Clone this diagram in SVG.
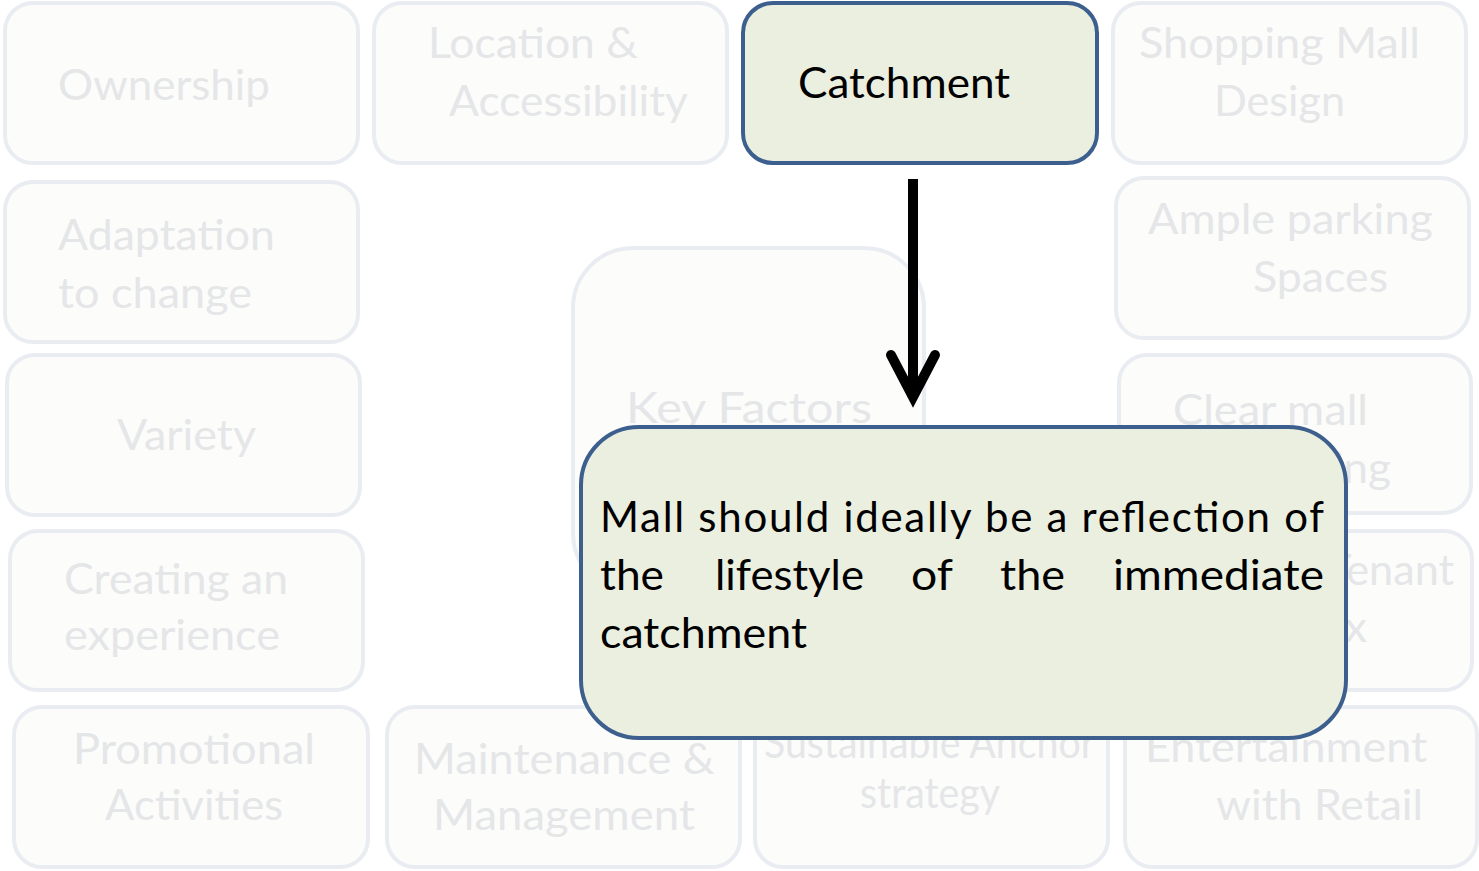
<svg xmlns="http://www.w3.org/2000/svg" width="1479" height="871" viewBox="0 0 1479 871">
<style>
.fb{fill:#fcfcfb;stroke:#e9ecf1;stroke-width:4}
.ft{font-family:Lato,"Liberation Sans",sans-serif;font-size:42px;fill:#e5e6e8}
.hb{fill:#ebefdf;stroke:#3d5f8e;stroke-width:4}
.ht{font-family:Lato,"Liberation Sans",sans-serif;font-size:42px;fill:#000}
.conn{stroke:#000;stroke-width:10;fill:none}
</style>
<rect width="1479" height="871" fill="#ffffff"/>
<g id="ownership"><rect class="fb" x="5" y="3" width="353" height="160" rx="28"/>
<text class="ft" x="58" y="100" textLength="212" lengthAdjust="spacingAndGlyphs">Ownership</text></g>
<g id="location"><rect class="fb" x="374" y="3" width="353" height="160" rx="28"/>
<text class="ft" x="428" y="58" textLength="210" lengthAdjust="spacingAndGlyphs">Location &amp;</text>
<text class="ft" x="449" y="116" textLength="239" lengthAdjust="spacingAndGlyphs">Accessibility</text></g>
<g id="shopping-mall-design"><rect class="fb" x="1113" y="3" width="353" height="160" rx="28"/>
<text class="ft" x="1139" y="58" textLength="281" lengthAdjust="spacingAndGlyphs">Shopping Mall</text>
<text class="ft" x="1214" y="116" textLength="131" lengthAdjust="spacingAndGlyphs">Design</text></g>
<g id="adaptation"><rect class="fb" x="5" y="182" width="353" height="160" rx="28"/>
<text class="ft" x="58" y="250" textLength="217" lengthAdjust="spacingAndGlyphs">Adaptation</text>
<text class="ft" x="58" y="308" textLength="194" lengthAdjust="spacingAndGlyphs">to change</text></g>
<g id="ample-parking"><rect class="fb" x="1116" y="178" width="353" height="160" rx="28"/>
<text class="ft" x="1148" y="234" textLength="285" lengthAdjust="spacingAndGlyphs">Ample parking</text>
<text class="ft" x="1253" y="292" textLength="135" lengthAdjust="spacingAndGlyphs">Spaces</text></g>
<g id="variety"><rect class="fb" x="7" y="355" width="353" height="160" rx="28"/>
<text class="ft" x="117" y="450" textLength="139" lengthAdjust="spacingAndGlyphs">Variety</text></g>
<g id="clear-mall"><rect class="fb" x="1119" y="355" width="352" height="158" rx="28"/>
<text class="ft" x="1173" y="425" textLength="195" lengthAdjust="spacingAndGlyphs">Clear mall</text>
<text class="ft" x="1176" y="483" textLength="215" lengthAdjust="spacingAndGlyphs">positioning</text></g>
<g id="creating-experience"><rect class="fb" x="10" y="531" width="353" height="159" rx="28"/>
<text class="ft" x="64" y="594" textLength="224" lengthAdjust="spacingAndGlyphs">Creating an</text>
<text class="ft" x="64" y="650" textLength="216" lengthAdjust="spacingAndGlyphs">experience</text></g>
<g id="tenant-mix"><rect class="fb" x="1119" y="531" width="353" height="159" rx="28"/>
<text class="ft" x="1326" y="585" textLength="128" lengthAdjust="spacingAndGlyphs">Tenant</text>
<text class="ft" x="1293" y="642" textLength="74" lengthAdjust="spacingAndGlyphs">Mix</text></g>
<g id="promotional"><rect class="fb" x="14" y="707" width="354" height="160" rx="28"/>
<text class="ft" x="73" y="764" textLength="242" lengthAdjust="spacingAndGlyphs">Promotional</text>
<text class="ft" x="105" y="820" textLength="178" lengthAdjust="spacingAndGlyphs">Activities</text></g>
<g id="maintenance"><rect class="fb" x="387" y="707" width="353" height="160" rx="28"/>
<text class="ft" x="414" y="774" textLength="301" lengthAdjust="spacingAndGlyphs">Maintenance &amp;</text>
<text class="ft" x="433" y="830" textLength="262" lengthAdjust="spacingAndGlyphs">Management</text></g>
<g id="sustainable-anchor"><rect class="fb" x="755" y="707" width="353" height="160" rx="28"/>
<text class="ft" x="764" y="758" textLength="331" lengthAdjust="spacingAndGlyphs">Sustainable Anchor</text>
<text class="ft" x="860" y="808" textLength="140" lengthAdjust="spacingAndGlyphs">strategy</text></g>
<g id="entertainment"><rect class="fb" x="1125" y="707" width="352" height="160" rx="28"/>
<text class="ft" x="1145" y="762" textLength="282" lengthAdjust="spacingAndGlyphs">Entertainment</text>
<text class="ft" x="1216" y="820" textLength="207" lengthAdjust="spacingAndGlyphs">with Retail</text></g>
<g id="key-factors"><rect class="fb" x="573" y="248" width="351" height="345" rx="60"/>
<text class="ft" x="626" y="423" textLength="246" lengthAdjust="spacingAndGlyphs">Key Factors</text></g>
<g id="catchment"><rect class="hb" x="743" y="3" width="354" height="160" rx="30"/>
<text class="ht" x="798" y="98" textLength="212" lengthAdjust="spacingAndGlyphs">Catchment</text></g>
<g id="connectors">
<line class="conn" x1="913" y1="179" x2="913" y2="394"/>
<polyline class="conn" points="891,355 913,397 935,355" stroke-linecap="round" stroke-linejoin="miter"/>
</g>
<g id="callout"><rect class="hb" x="581" y="427" width="765" height="311" rx="58"/>
<text class="ht" x="600" y="532" textLength="724" lengthAdjust="spacing">Mall should ideally be a reflection of</text>
<text class="ht" x="600" y="590" textLength="64" lengthAdjust="spacingAndGlyphs">the</text>
<text class="ht" x="715" y="590" textLength="149" lengthAdjust="spacingAndGlyphs">lifestyle</text>
<text class="ht" x="911" y="590" textLength="42" lengthAdjust="spacingAndGlyphs">of</text>
<text class="ht" x="1000" y="590" textLength="65" lengthAdjust="spacingAndGlyphs">the</text>
<text class="ht" x="1113" y="590" textLength="211" lengthAdjust="spacingAndGlyphs">immediate</text>
<text class="ht" x="600" y="648" textLength="207" lengthAdjust="spacingAndGlyphs">catchment</text>
</g>
</svg>
